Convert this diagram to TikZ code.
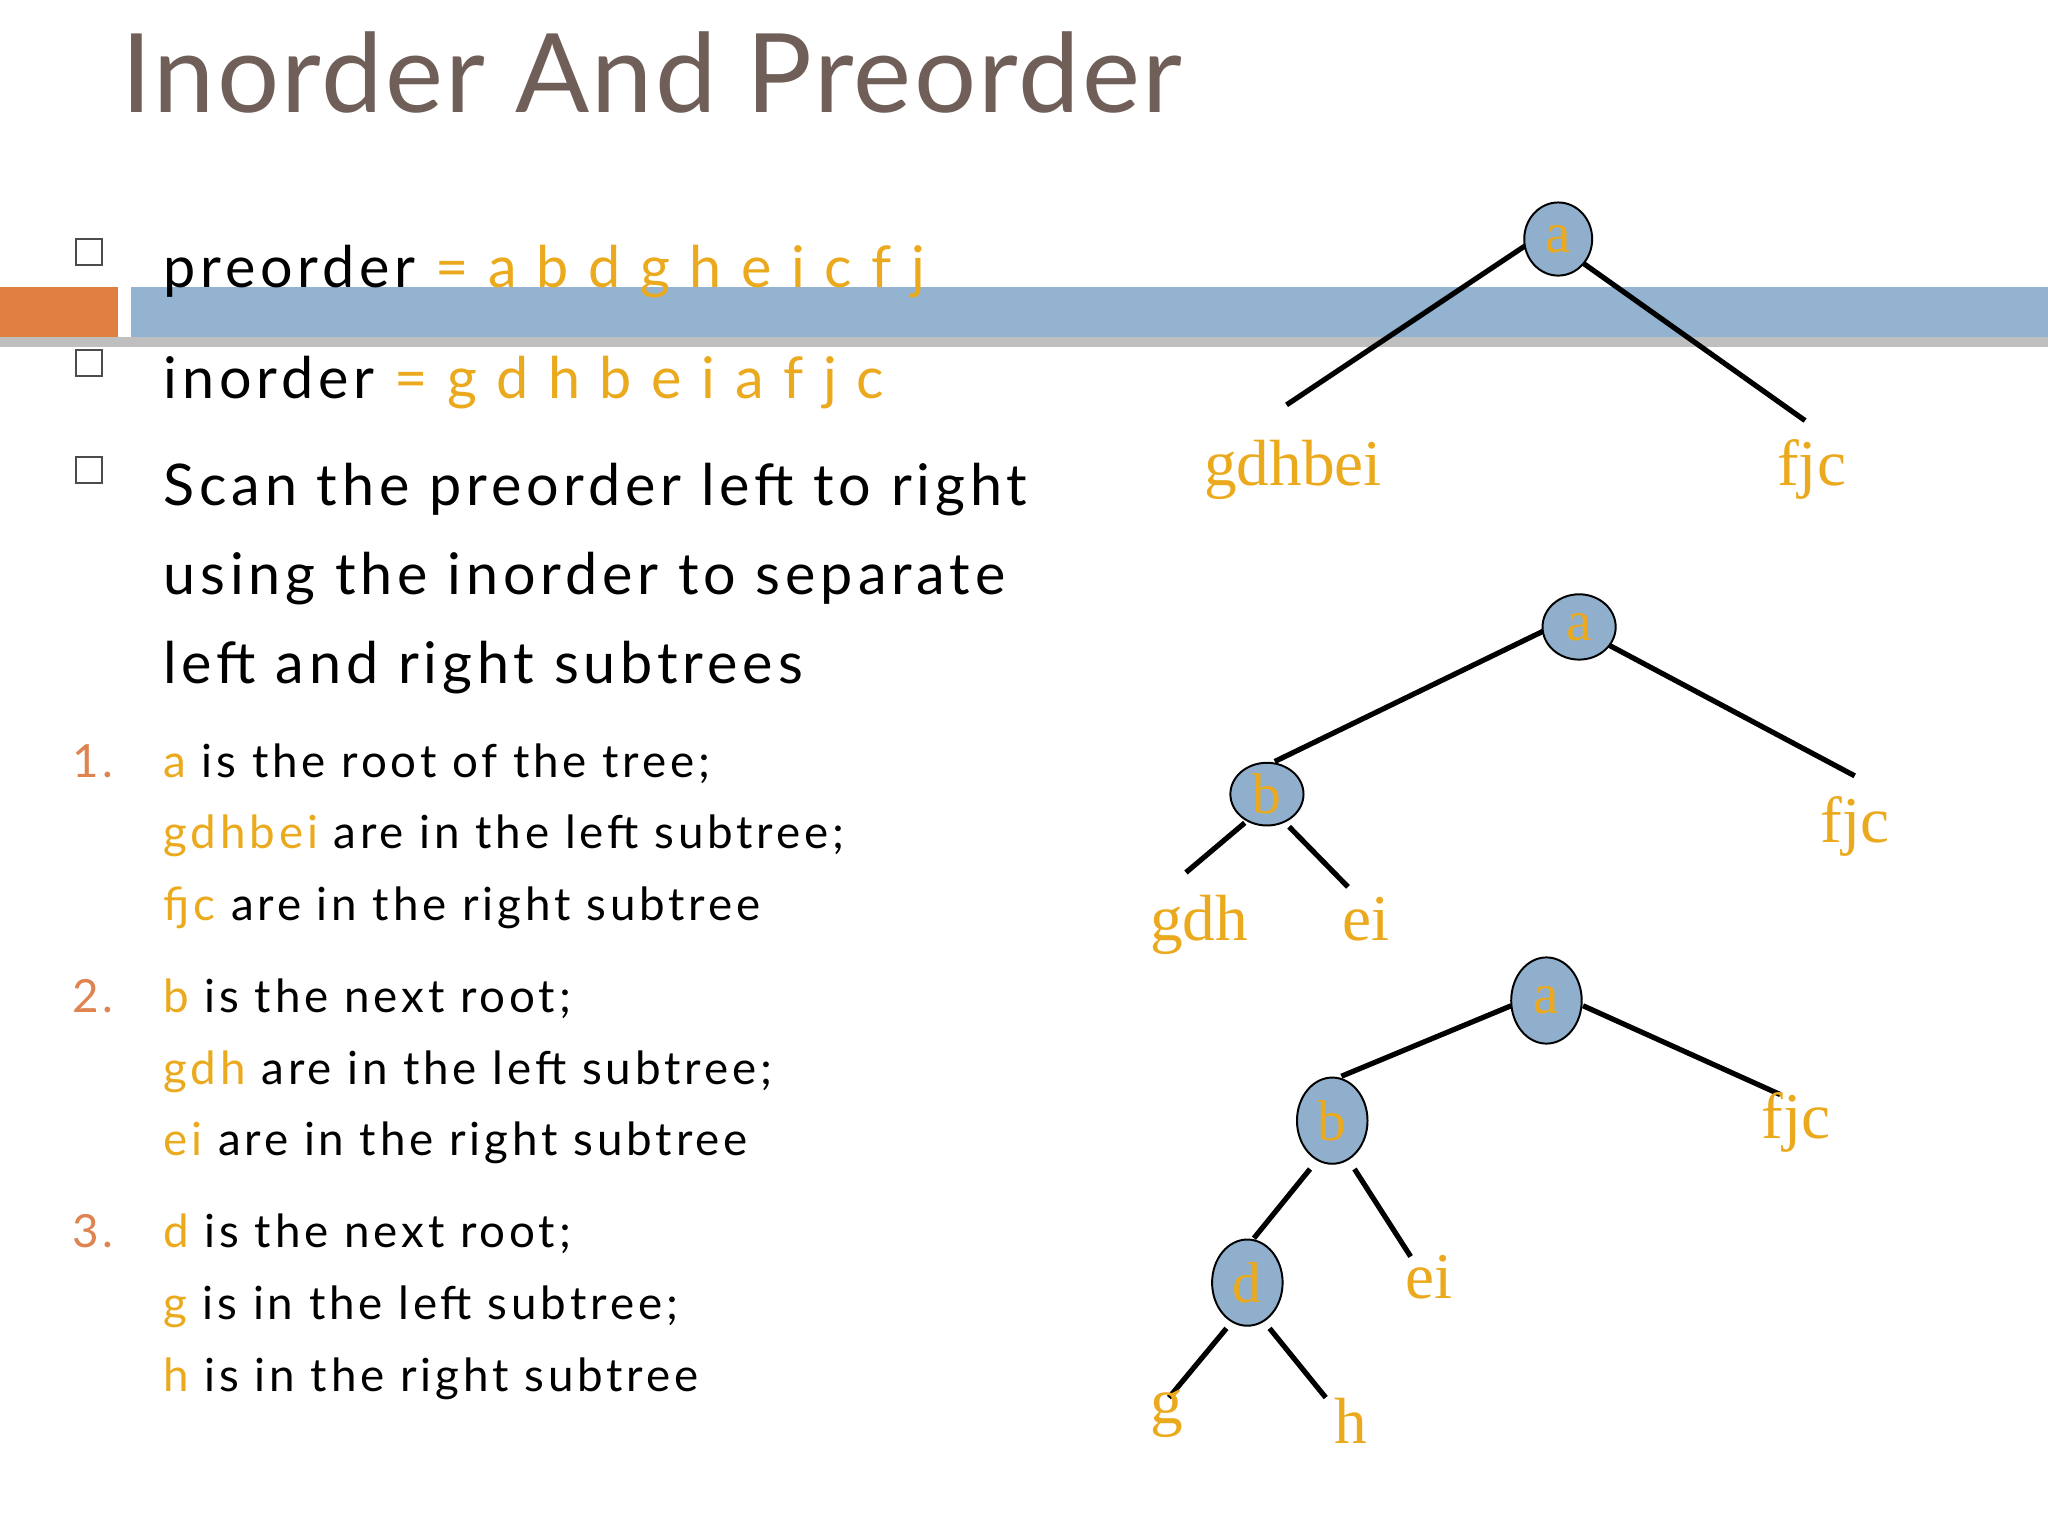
\documentclass[tikz,border=0pt]{standalone}
\usepackage{fontspec}
\setmainfont{Lato}[LetterSpace=8.5]
\newfontfamily\titlefont{Lato}[LetterSpace=2]
\newfontfamily\treefont{Liberation Serif}
\usetikzlibrary{shapes.geometric}
\definecolor{ttl}{HTML}{6F5F58}
\definecolor{org}{HTML}{EBAA1E}
\definecolor{num}{HTML}{DD8450}
\definecolor{band}{HTML}{93B3D0}
\definecolor{bar}{HTML}{E07F40}
\definecolor{nfill}{HTML}{8FAFCC}
\tikzset{
 txt/.style={anchor=base west,inner sep=0pt,font=\fontsize{44}{50}\selectfont},
 sm/.style={anchor=base west,inner sep=0pt,font=\fontsize{35}{40}\selectfont},
 tn/.style={ellipse,draw=black,line width=1.5pt,fill=nfill,inner sep=0pt,text=org,font=\treefont\fontsize{44}{44}\selectfont},
 tl/.style={anchor=base,inner sep=0pt,text=org,font=\treefont\fontsize{50}{50}\selectfont},
 edge/.style={line width=4pt},
 box/.style={draw=black!70,line width=1.2pt,minimum size=20pt,inner sep=0pt}
}
\begin{document}
\begin{tikzpicture}[x=1pt,y=-1pt]
\useasboundingbox (0,0) rectangle (1568,1176);
\fill[white] (0,0) rectangle (1568,1176);
\node[anchor=base west,inner sep=0pt,text=ttl,font=\titlefont\fontsize{84}{90}\selectfont] (title) at (93,86) {Inorder And Preorder};
% band
\fill[black!25] (0,258) rectangle (1568,266);
\fill[bar] (0,220) rectangle (90,258);
\fill[band] (100,220) rectangle (1568,258);
% bullets
\node[box] (b1) at (68,193) {};
\node[box] (b2) at (68,278) {};
\node[box] (b3) at (68,360) {};
\node[txt] (l1) at (125,220) {preorder \textcolor{org}{= a b d g h e i c f j}};
\node[txt] (l2) at (125,305) {inorder \textcolor{org}{= g d h b e i a f j c}};
\node[txt] (l3) at (125,387) {Scan the preorder left to right};
\node[txt] (l4) at (125,455) {using the inorder to separate};
\node[txt] (l5) at (125,523) {left and right subtrees};
\node[sm,text=num] (n1) at (55,595) {1.};
\node[sm] (s1) at (125,595) {\textcolor{org}{a} is the root of the tree;};
\node[sm] (s2) at (125,650) {\textcolor{org}{gdhbei} are in the left subtree;};
\node[sm] (s3) at (125,705) {\textcolor{org}{f{}jc} are in the right subtree};
\node[sm,text=num] (n2) at (55,775) {2.};
\node[sm] (s4) at (125,775) {\textcolor{org}{b} is the next root;};
\node[sm] (s5) at (125,830) {\textcolor{org}{gdh} are in the left subtree;};
\node[sm] (s6) at (125,885) {\textcolor{org}{ei} are in the right subtree};
\node[sm,text=num] (n3) at (55,955) {3.};
\node[sm] (s7) at (125,955) {\textcolor{org}{d} is the next root;};
\node[sm] (s8) at (125,1010) {\textcolor{org}{g} is in the left subtree;};
\node[sm] (s9) at (125,1065) {\textcolor{org}{h} is in the right subtree};
% tree 1
\coordinate (t1l) at (985,310); \coordinate (t1r) at (1382,322);
\draw[edge] (1168,188) -- (t1l); \draw[edge] (1210,200) -- (t1r);
\node[tn,minimum width=52pt,minimum height=56pt] (a1) at (1193,183) {a};
\node[tl] (g1) at (990,372) {gdhbei};
\node[tl] (f1) at (1387,372) {fjc};
% tree 2
\coordinate (t2b) at (976,583); \coordinate (t2r) at (1420,594);
\coordinate (t2l) at (908,668); \coordinate (t2e) at (1032,679);
\draw[edge] (1182,483) -- (t2b); \draw[edge] (1232,494) -- (t2r);
\draw[edge] (953,630) -- (t2l); \draw[edge] (987,633) -- (t2e);
\node[tn,minimum width=56pt,minimum height=50pt] (a2) at (1209,480) {a};
\node[tn,minimum width=56pt,minimum height=48pt] (b2n) at (970,608) {b};
\node[tl] (g2) at (918,720) {gdh};
\node[tl] (e2) at (1046,720) {ei};
\node[tl] (f2) at (1420,645) {fjc};
% tree 3
\coordinate (t3b) at (1027,824); \coordinate (t3r) at (1363,838);
\coordinate (t3d) at (960,948); \coordinate (t3e) at (1080,962);
\coordinate (t3g) at (895,1070); \coordinate (t3h) at (1015,1070);
\draw[edge] (1157,770) -- (t3b); \draw[edge] (1212,770) -- (t3r);
\draw[edge] (1003,895) -- (t3d); \draw[edge] (1037,895) -- (t3e);
\draw[edge] (939,1017) -- (t3g); \draw[edge] (972,1017) -- (t3h);
\node[tn,minimum width=54pt,minimum height=66pt] (a3) at (1184,766) {a};
\node[tn,minimum width=54pt,minimum height=66pt] (b3n) at (1020,858) {b};
\node[tn,minimum width=54pt,minimum height=66pt] (d3) at (955,982) {d};
\node[tl] (f3) at (1375,872) {fjc};
\node[tl] (e3) at (1094,994) {ei};
\node[tl] (g3) at (893,1090) {g};
\node[tl] (h3) at (1034,1105) {h};
\end{tikzpicture}
\end{document}
